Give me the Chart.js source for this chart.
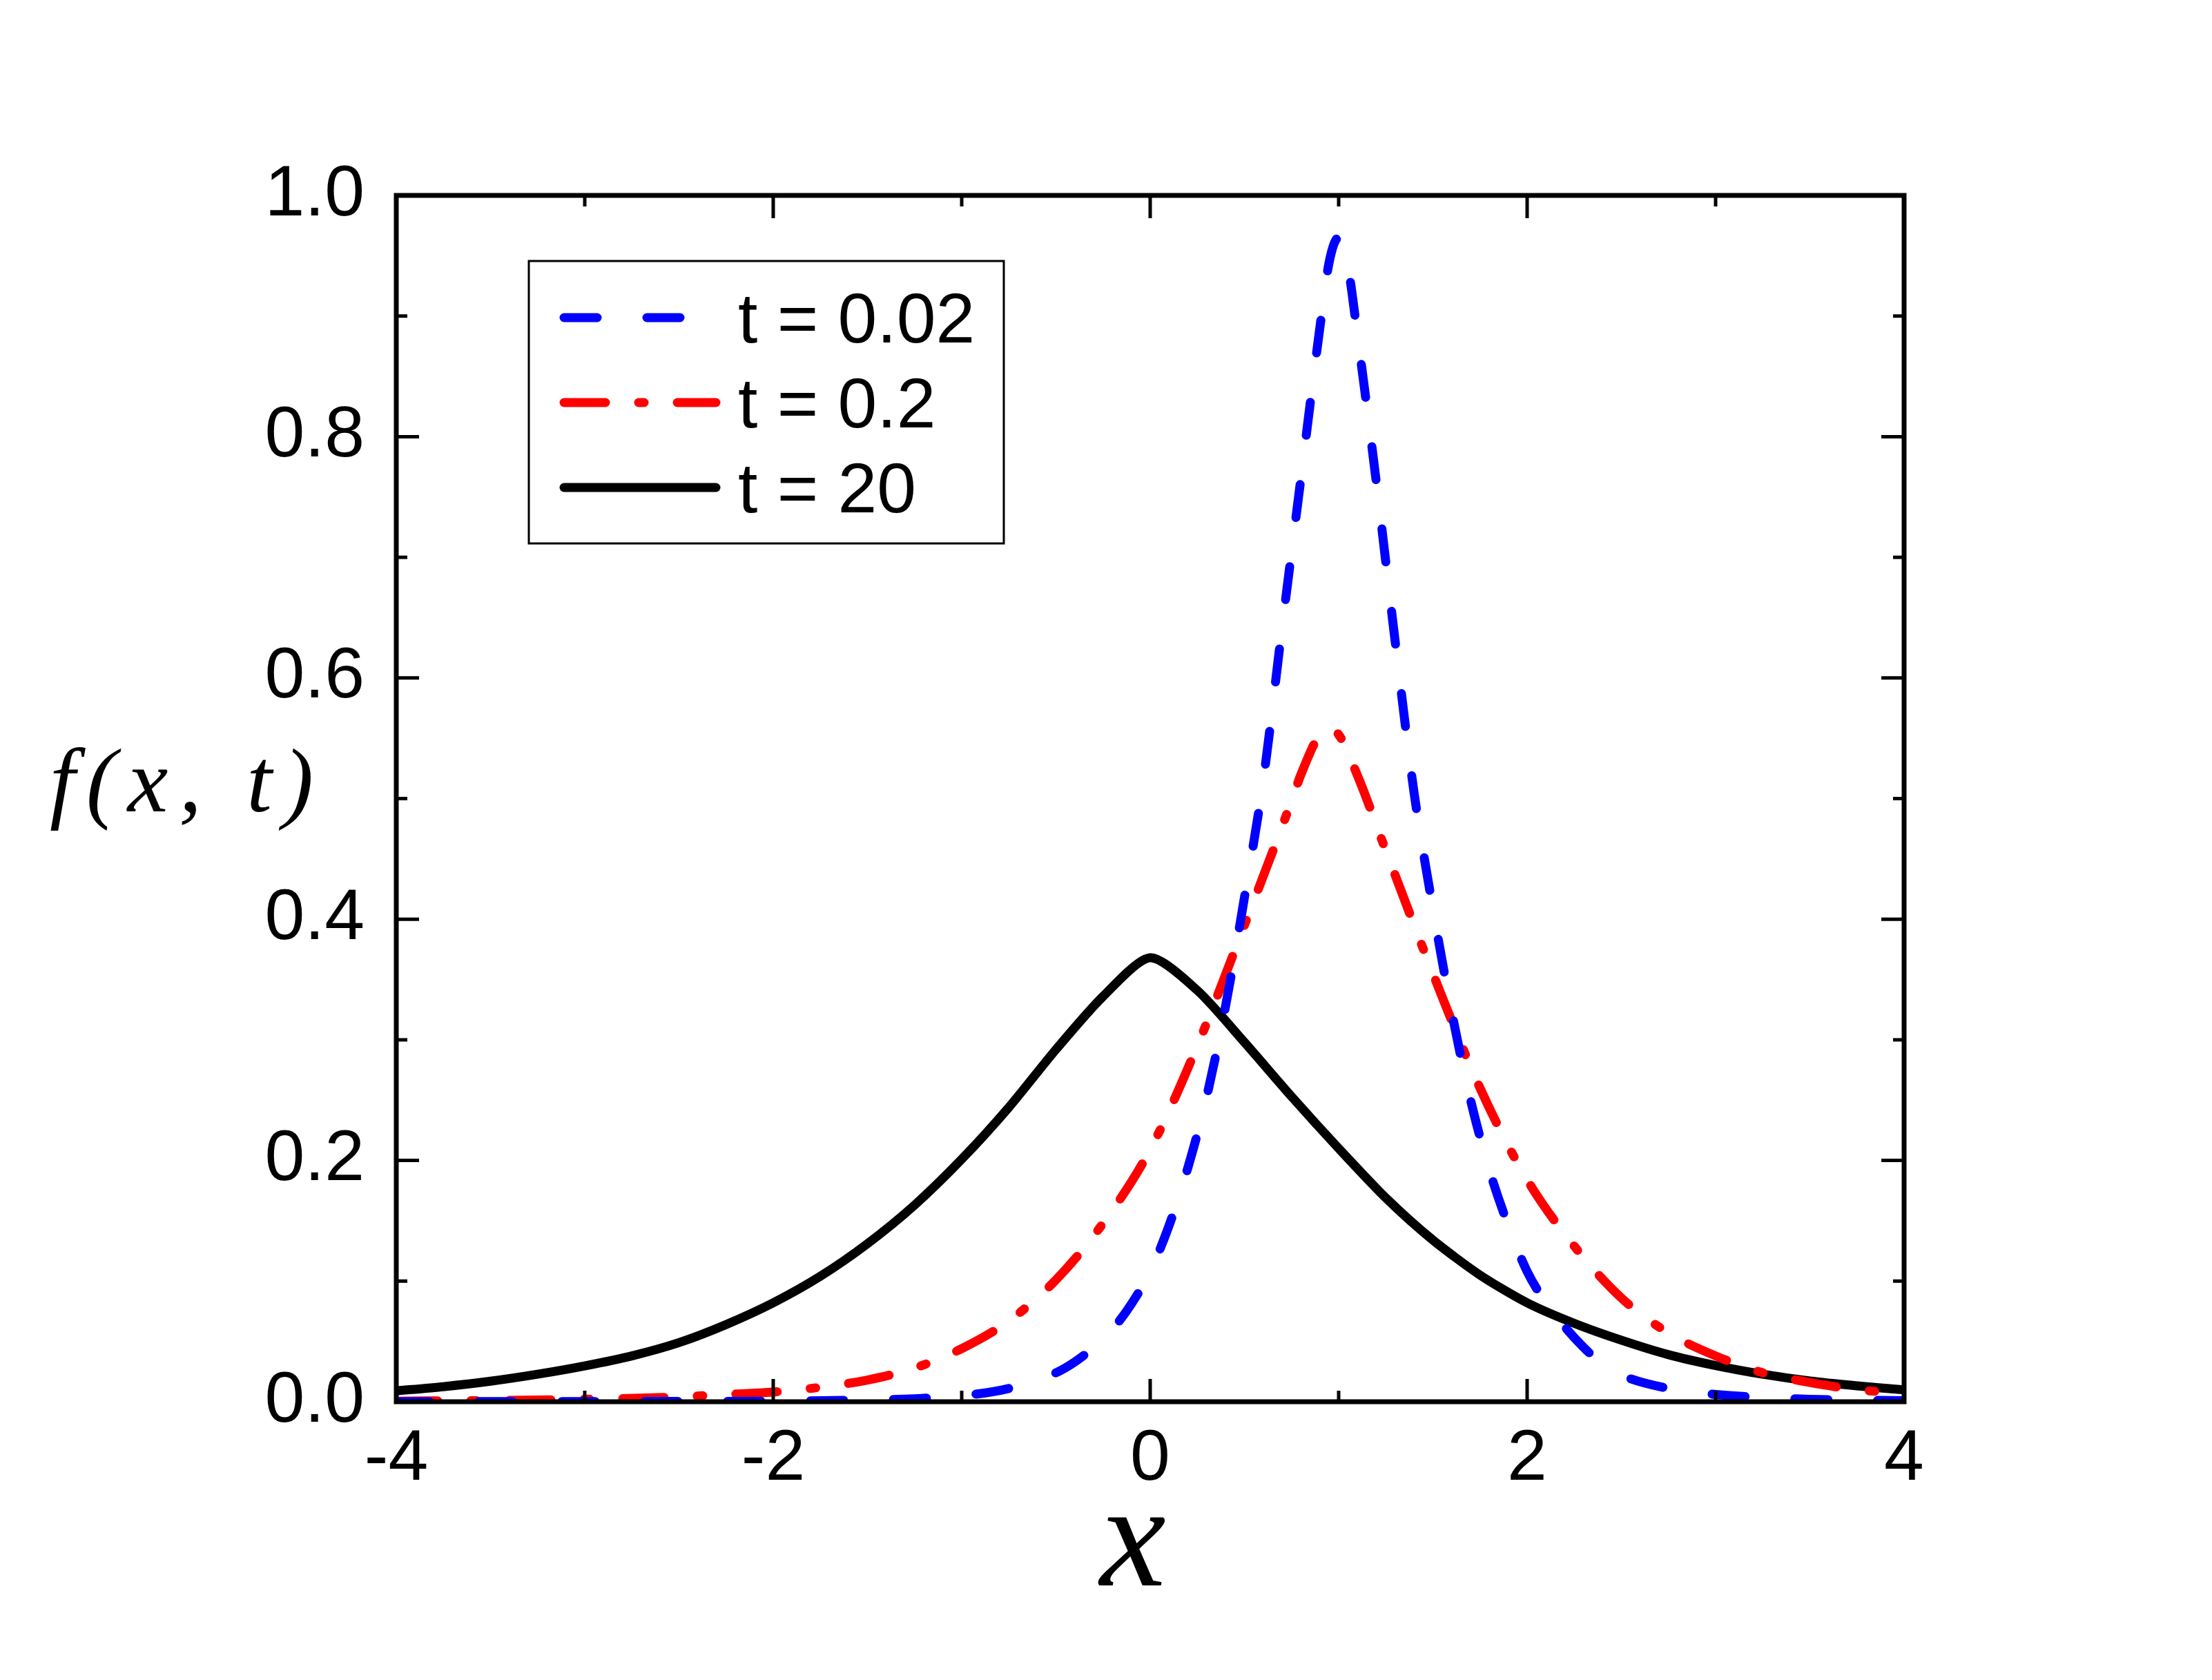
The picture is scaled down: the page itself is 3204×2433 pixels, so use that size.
<!DOCTYPE html>
<html>
<head>
<meta charset="utf-8">
<script src="https://cdn.jsdelivr.net/npm/chart.js@4.4.1/dist/chart.umd.min.js"></script>
<style>
    html, body { margin: 0; padding: 0; background: #fff; }
    #wrap { width: 3204px; height: 2433px; }
</style>
</head>
<body>
<div id="wrap"><canvas id="graph"></canvas></div>
<script>
// Values
const labels = ["t = 0.02", "t = 0.2", "t = 20"];

const blueX = [-4, -3, -2, -1.5, -1.25, -1, -0.75, -0.5, -0.4, -0.3, -0.2, -0.1, 0,
    0.1, 0.2, 0.3, 0.4, 0.5, 0.6, 0.7, 0.8, 0.9, 0.95, 1, 1.05, 1.1,
    1.2, 1.3, 1.4, 1.5, 1.6, 1.7, 1.8, 1.9, 2, 2.1, 2.2, 2.3, 2.4, 2.5,
    2.75, 3, 3.25, 3.5, 4];
const blueY = [0, 0.0002, 0.0005, 0.0015, 0.0025, 0.005, 0.011, 0.024, 0.033, 0.045, 0.060, 0.081, 0.108,
    0.146, 0.194, 0.253, 0.328, 0.418, 0.515, 0.642, 0.766, 0.890, 0.945, 0.965, 0.940, 0.884,
    0.762, 0.630, 0.505, 0.409, 0.323, 0.250, 0.192, 0.146, 0.108, 0.082, 0.062, 0.045, 0.031, 0.022,
    0.011, 0.006, 0.0035, 0.002, 0.0008];

const redX = [-4, -3.5, -3, -2.5, -2.25, -2, -1.75, -1.5, -1.25, -1, -0.75, -0.5, -0.25, 0,
    0.25, 0.5, 0.75, 0.8, 0.9, 0.95, 1, 1.1, 1.25, 1.5, 1.75, 2, 2.25, 2.5, 2.75,
    3, 3.25, 3.5, 3.75, 4];
const redY = [0.0005, 0.001, 0.002, 0.004, 0.006, 0.008, 0.012, 0.018, 0.028, 0.044, 0.067, 0.101, 0.148, 0.209,
    0.295, 0.395, 0.498, 0.520, 0.553, 0.557, 0.553, 0.519, 0.457, 0.355, 0.260, 0.184, 0.129, 0.086, 0.057,
    0.038, 0.024, 0.016, 0.010, 0.007];

const blackX = [-4, -3.75, -3.5, -3.25, -3, -2.75, -2.5, -2.25, -2, -1.75, -1.5, -1.25, -1, -0.75, -0.5, -0.25, 0,
    0.25, 0.5, 0.75, 1, 1.25, 1.5, 1.75, 2, 2.25, 2.5, 2.75, 3, 3.25, 3.5, 3.75, 4];
const blackY = [0.009, 0.0125, 0.017, 0.0228, 0.0297, 0.038, 0.049, 0.064, 0.082, 0.104, 0.131, 0.163, 0.201, 0.244, 0.292, 0.336, 0.368,
    0.341, 0.298, 0.253, 0.210, 0.169, 0.134, 0.105, 0.082, 0.065, 0.051, 0.039, 0.030, 0.0228, 0.0172, 0.0132, 0.0098];

const xTicks = [-4, -2, 0, 2, 4];
const yTicks = [0, 0.2, 0.4, 0.6, 0.8, 1.0];

const toPoints = (xs, ys) => xs.map((x, i) => ({ x: x, y: ys[i] }));

Chart.defaults.font.family = "'Liberation Sans', Arial, sans-serif";
Chart.defaults.color = "#000";

// Box, inward ticks, legend and axis labels
const framePlugin = {
    id: "frame",
    afterDatasetsDraw(chart) {
        const ctx = chart.ctx;
        const a = chart.chartArea;
        const sx = chart.scales.x;
        const sy = chart.scales.y;
        ctx.save();

        ctx.strokeStyle = "#000";
        ctx.lineWidth = 7;
        ctx.strokeRect(a.left, a.top, a.right - a.left, a.bottom - a.top);

        const seg = (x1, y1, x2, y2) => {
            ctx.beginPath();
            ctx.moveTo(x1, y1);
            ctx.lineTo(x2, y2);
            ctx.stroke();
        };
        ctx.lineWidth = 5;
        xTicks.forEach((v, i) => {
            const px = sx.getPixelForValue(v);
            seg(px, a.bottom, px, a.bottom - 33);
            seg(px, a.top, px, a.top + 33);
            if (i < xTicks.length - 1) {
                const pm = sx.getPixelForValue((v + xTicks[i + 1]) / 2);
                seg(pm, a.bottom, pm, a.bottom - 16);
                seg(pm, a.top, pm, a.top + 16);
            }
        });
        yTicks.forEach((v, i) => {
            const py = sy.getPixelForValue(v);
            seg(a.left, py, a.left + 33, py);
            seg(a.right, py, a.right - 33, py);
            if (i < yTicks.length - 1) {
                const pm = sy.getPixelForValue((v + yTicks[i + 1]) / 2);
                seg(a.left, pm, a.left + 16, pm);
                seg(a.right, pm, a.right - 16, pm);
            }
        });

        // legend
        const bx = a.left + 192, by = a.top + 95;
        ctx.lineWidth = 3;
        ctx.strokeRect(bx, by, 688, 409);
        ctx.font = "102px 'Liberation Sans', Arial, sans-serif";
        ctx.fillStyle = "#000";
        ctx.textAlign = "left";
        ctx.textBaseline = "alphabetic";
        chart.data.datasets.forEach((ds, i) => {
            const ry = by + 82 + i * 123;
            ctx.save();
            ctx.strokeStyle = ds.borderColor;
            ctx.lineWidth = ds.borderWidth;
            ctx.lineCap = "round";
            ctx.setLineDash(ds.borderDash || []);
            seg(bx + 51, ry, bx + 271, ry);
            ctx.restore();
            ctx.fillText(ds.label, bx + 303, ry + 36);
        });

        // axis labels
        ctx.font = "italic 132px 'Liberation Serif', 'DejaVu Serif', serif";
        ctx.letterSpacing = "16px";
        ctx.fillText("f(x, t)", a.left - 502, (a.top + a.bottom) / 2 + 18);
        ctx.letterSpacing = "0px";
        ctx.font = "italic 215px 'Liberation Serif', 'DejaVu Serif', serif";
        ctx.textAlign = "center";
        ctx.fillText("x", (a.left + a.right) / 2 - 25, a.bottom + 266);

        ctx.restore();
    }
};

new Chart(document.getElementById("graph").getContext("2d"), {
    type: "line",
    data: {
        datasets: [
            {
                label: labels[0],
                data: toPoints(blueX, blueY),
                borderColor: "#0000ff",
                borderWidth: 13,
                borderDash: [48, 72],
                borderCapStyle: "round",
            },
            {
                label: labels[1],
                data: toPoints(redX, redY),
                borderColor: "#ff0000",
                borderWidth: 13,
                borderDash: [60, 48, 8, 48],
                borderCapStyle: "round",
            },
            {
                label: labels[2],
                data: toPoints(blackX, blackY),
                borderColor: "#000000",
                borderWidth: 13,
                borderCapStyle: "round",
                cubicInterpolationMode: "default",
                tension: 0.25,
            },
        ],
    },
    options: {
        responsive: true,
        maintainAspectRatio: false,
        devicePixelRatio: 1,
        animation: false,
        layout: { padding: { left: 0, right: 446, top: 283, bottom: 0 } },
        elements: {
            point: { radius: 0 },
            line: { cubicInterpolationMode: "monotone", borderJoinStyle: "round" },
        },
        plugins: { legend: { display: false }, tooltip: { enabled: false } },
        scales: {
            x: {
                type: "linear",
                min: -4,
                max: 4,
                grid: { display: false, drawTicks: false },
                border: { display: false },
                ticks: { stepSize: 2, padding: 22, font: { size: 104 } },
                afterFit: (s) => { s.height = 403; },
            },
            y: {
                min: 0,
                max: 1,
                grid: { display: false, drawTicks: false },
                border: { display: false },
                ticks: {
                    stepSize: 0.2,
                    padding: 46,
                    font: { size: 104 },
                    callback: (v) => v.toFixed(1),
                },
                afterFit: (s) => { s.width = 574; },
            },
        },
    },
    plugins: [framePlugin],
});
</script>
</body>
</html>
